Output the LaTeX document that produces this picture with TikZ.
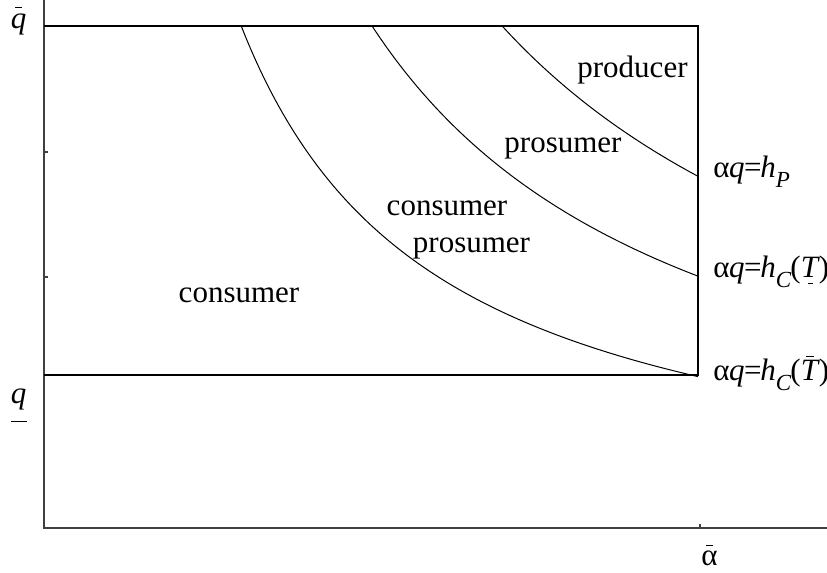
\documentclass[tikz,border=0pt]{standalone}
\usepackage{fontspec}
\setmainfont{Liberation Serif}
\newcommand\topbarred[3]{\leavevmode\setbox0\hbox{#1}\rlap{\hbox to\wd0{\hfil\raisebox{#2}{\rule{#3}{0.5pt}}\hfil}}\box0}
\newcommand\lowbarred[3]{\leavevmode\setbox0\hbox{#1}\rlap{\hbox to\wd0{\hfil\raisebox{#2}{\rule{#3}{0.5pt}}\hfil}}\box0}
\newcommand\eqstart{α\kern-0.3pt\textit{q}\kern-0.2pt=\kern-0.6pt\textit{h}}
\newcommand\subsc[1]{\raisebox{-5pt}{\fontsize{11.5}{12}\selectfont\textit{#1}}}
\begin{document}
\begin{tikzpicture}[x=0.5pt,y=-0.5pt,
  axisline/.style={line width=0.75pt,draw=black!75},
  boxline/.style={line width=0.7pt,draw=black},
  curveline/.style={line width=0.5pt,draw=black},
  region/.style={font=\fontsize{15.5}{18}\selectfont,inner sep=0pt,anchor=base},
  eqlabel/.style={font=\fontsize{15.5}{18}\selectfont,inner sep=0pt,anchor=base west}]
\useasboundingbox (0,0) rectangle (827,573);
% axes
\coordinate (O) at (44,528);
\coordinate (Ytop) at (44,0);
\coordinate (Xend) at (827,528);
\draw[axisline] (Ytop) -- (O) -- (Xend);
\coordinate (t1) at (44,152); \coordinate (t1e) at (48,152);
\coordinate (t2) at (44,277); \coordinate (t2e) at (48,277);
\coordinate (t3) at (700,528); \coordinate (t3e) at (700,524);
\draw[axisline] (t1) -- (t1e) (t2) -- (t2e) (t3) -- (t3e);
% box
\coordinate (TL) at (44,26); \coordinate (TR) at (698,26);
\coordinate (BR) at (698,375); \coordinate (BL) at (44,375);
\draw[boxline] (TL) -- (TR) -- (BR) -- (BL);
% curves alpha*q = const
\draw[curveline] plot[domain=241.2:698,samples=120] (\x,{528-990/((\x-44)/100)});
\draw[curveline] plot[domain=372.1:698,samples=120] (\x,{528-1647/((\x-44)/100)});
\draw[curveline] plot[domain=502.2:698,samples=120] (\x,{528-2300/((\x-44)/100)});
% axis labels
\node[region] (qbar) at (18.5,28) {\topbarred{\textit{q}}{10pt}{3.3pt}};
\node[region] (qlow) at (18.5,403) {\lowbarred{\textit{q}}{-9.5pt}{8pt}};
\node[region] (abar) at (709.5,565) {\topbarred{α}{9.5pt}{3.5pt}};
% region labels
\node[region] (producer) at (632.5,77) {producer};
\node[region] (prosumer1) at (563,152) {prosumer};
\node[region] (consumer1) at (447,215) {consumer};
\node[region] (prosumer2) at (471.5,252) {prosumer};
\node[region] (consumer2) at (239,302) {consumer};
% curve labels
\node[eqlabel] (hP) at (713,177) {\eqstart\subsc{P}};
\node[eqlabel] (hCl) at (713,278) {\eqstart\subsc{C}\kern-0.5pt(\lowbarred{\textit{T}}{-3pt}{2.5pt}\kern-0.5pt)};
\node[eqlabel] (hCu) at (713,380) {\eqstart\subsc{C}\kern-0.5pt(\topbarred{\textit{T}}{11.5pt}{4pt}\kern-0.5pt)};
\end{tikzpicture}
\end{document}
